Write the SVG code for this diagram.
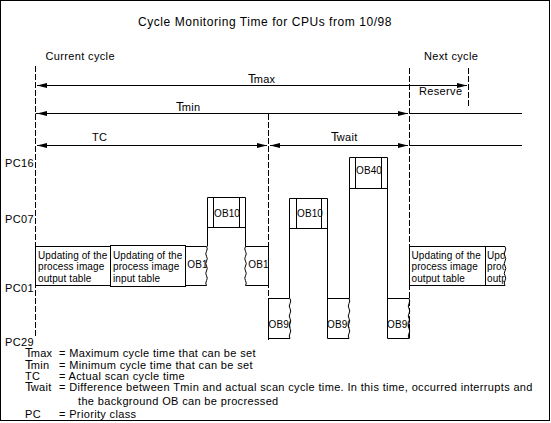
<svg xmlns="http://www.w3.org/2000/svg" width="551" height="423" viewBox="0 0 551 423">
<defs>
<style>
.t{font-family:"Liberation Sans",Arial,sans-serif;font-size:11px;letter-spacing:0.35px;fill:#000}
.s{font-family:"Liberation Sans",Arial,sans-serif;font-size:10px;letter-spacing:0.1px;fill:#000}
.ti{font-family:"Liberation Sans",Arial,sans-serif;font-size:12px;letter-spacing:0.55px;fill:#000}
.big{font-size:12.5px;letter-spacing:0}
.ln{stroke:#000;stroke-width:1;fill:none}
.dash{stroke:#000;stroke-width:1;stroke-dasharray:6 2;fill:none}
.wv{stroke:#000;stroke-width:1;fill:none}
</style>
<marker id="ah" viewBox="0 0 10 6" refX="10" refY="3" markerWidth="10" markerHeight="6" orient="auto-start-reverse" markerUnits="userSpaceOnUse">
<path d="M0,0.5 L10,3 L0,5.5 z" fill="#000"/>
</marker>
<clipPath id="c90a"><rect x="268" y="299" width="22.5" height="39"/></clipPath>
<clipPath id="c90b"><rect x="327" y="299" width="22.5" height="39"/></clipPath>
<clipPath id="c90c"><rect x="387" y="299" width="22.5" height="39"/></clipPath>
<clipPath id="cD"><rect x="486" y="247" width="18.5" height="38"/></clipPath>
<clipPath id="c1a"><rect x="186" y="247" width="20.5" height="38"/></clipPath>
</defs>
<rect x="0" y="0" width="551" height="423" fill="#fff"/>
<rect x="0.5" y="0.5" width="549" height="420" fill="#fff" stroke="#000" stroke-width="1"/>

<text class="ti" x="138" y="26">Cycle Monitoring Time for CPUs from 10/98</text>
<text class="t" x="45.5" y="59.5">Current cycle</text>
<text class="t" x="424" y="59.5">Next cycle</text>

<g id="axis-labels">
<text class="t" x="5" y="167">PC16</text>
<text class="t" x="5" y="223">PC07</text>
<text class="t" x="5" y="292">PC01</text>
<text class="t" x="5" y="345.5">PC29</text>
</g>

<g id="connectors">
<path class="dash" d="M35.5,66 V338"/>
<path class="dash" d="M268.5,114 V340"/>
<path class="dash" d="M409.5,68 V340"/>
<path class="dash" d="M468.5,68 V107"/>
<line class="ln" x1="37" y1="85.5" x2="467" y2="85.5" marker-start="url(#ah)" marker-end="url(#ah)"/>
<line class="ln" x1="37" y1="113.5" x2="408" y2="113.5" marker-start="url(#ah)" marker-end="url(#ah)"/>
<line class="ln" x1="35.5" y1="113.5" x2="38" y2="113.5"/>
<line class="ln" x1="409.5" y1="113.5" x2="522" y2="113.5"/>
<line class="ln" x1="37" y1="145.5" x2="267" y2="145.5" marker-start="url(#ah)" marker-end="url(#ah)"/>
<line class="ln" x1="270" y1="145.5" x2="408" y2="145.5" marker-start="url(#ah)" marker-end="url(#ah)"/>
<line class="ln" x1="409.5" y1="145.5" x2="522" y2="145.5"/>
<text class="t" x="248" y="82.5"><tspan class="big">T</tspan><tspan dx="-2">max</tspan></text>
<text class="t" x="176" y="111"><tspan class="big">T</tspan><tspan dx="-2">min</tspan></text>
<text class="t" x="92" y="141">TC</text>
<text class="t" x="331" y="141"><tspan class="big">T</tspan><tspan dx="-2">wait</tspan></text>
<text class="t" x="419" y="95">Reserve</text>
</g>

<g id="upd-output-1">
<rect class="ln" x="35.5" y="246.5" width="75" height="39"/>
<text class="s" x="38" y="258.5">Updating of the</text>
<text class="s" x="38" y="270">process image</text>
<text class="s" x="38" y="281.5">output table</text>
</g>

<g id="upd-input-1">
<rect class="ln" x="110.5" y="245.5" width="75" height="41"/>
<text class="s" x="113" y="258.5">Updating of the</text>
<text class="s" x="113" y="270">process image</text>
<text class="s" x="113" y="281.5">input table</text>
</g>

<g id="ob1-a">
<path class="ln" d="M185.5,246.5 H206.5 M185.5,285.5 H206.5"/>
<path class="wv" d="M206.5,246.5 q1.5,2.44 0,4.875 q-1.5,2.44 0,4.875 q1.5,2.44 0,4.875 q-1.5,2.44 0,4.875 q1.5,2.44 0,4.875 q-1.5,2.44 0,4.875 q1.5,2.44 0,4.875 q-1.5,2.44 0,4.875"/>
<text class="s" x="187.3" y="267.5" clip-path="url(#c1a)">OB1</text>
</g>

<g id="ob10-a">
<path class="ln" d="M207.5,246.5 V197.5 H245.5 V246.5 M207.5,227.5 H245.5 M213.5,197.5 V227.5 M239.5,197.5 V227.5"/>
<text class="s" x="214" y="217">OB10</text>
</g>

<g id="ob1-b">
<path class="ln" d="M245.5,246.5 H268.5 V285.5 H245.5"/>
<path class="wv" d="M245.5,246.5 q-1.5,2.44 0,4.875 q1.5,2.44 0,4.875 q-1.5,2.44 0,4.875 q1.5,2.44 0,4.875 q-1.5,2.44 0,4.875 q1.5,2.44 0,4.875 q-1.5,2.44 0,4.875 q1.5,2.44 0,4.875"/>
<text class="s" x="248.3" y="267.5">OB1</text>
</g>

<g id="ob90-a">
<path class="ln" d="M289.5,298.5 H268.5 V338.5 H290"/>
<path class="wv" d="M290,298.5 q1.5,2.5 0,5 q-1.5,2.5 0,5 q1.5,2.5 0,5 q-1.5,2.5 0,5 q1.5,2.5 0,5 q-1.5,2.5 0,5 q1.5,2.5 0,5 q-1.5,2.5 0,5"/>
<text class="s" x="268.5" y="328" clip-path="url(#c90a)">OB90</text>
</g>

<g id="ob10-b">
<path class="ln" d="M289.5,298.5 V198.5 H327.5 V338.5 M289.5,228.5 H327.5 M296.5,198.5 V228.5 M321.5,198.5 V228.5"/>
<text class="s" x="297" y="216.5">OB10</text>
</g>

<g id="ob90-b">
<path class="ln" d="M327.5,298.5 H349.5 M327.5,338.5 H349"/>
<path class="wv" d="M349,298.5 q1.5,2.5 0,5 q-1.5,2.5 0,5 q1.5,2.5 0,5 q-1.5,2.5 0,5 q1.5,2.5 0,5 q-1.5,2.5 0,5 q1.5,2.5 0,5 q-1.5,2.5 0,5"/>
<text class="s" x="327" y="328" clip-path="url(#c90b)">OB90</text>
</g>

<g id="ob40">
<path class="ln" d="M349.5,298.5 V157.5 H387.5 V338.5 M349.5,188.5 H387.5 M355.5,157.5 V188.5 M381.5,157.5 V188.5"/>
<text class="s" x="356" y="174">OB40</text>
</g>

<g id="ob90-c">
<path class="ln" d="M387.5,298.5 H409.5 M387.5,338.5 H409.5"/>
<path class="wv" d="M409,298.5 q1.5,2.5 0,5 q-1.5,2.5 0,5 q1.5,2.5 0,5 q-1.5,2.5 0,5 q1.5,2.5 0,5 q-1.5,2.5 0,5 q1.5,2.5 0,5 q-1.5,2.5 0,5"/>
<text class="s" x="387" y="328" clip-path="url(#c90c)">OB90</text>
</g>

<g id="upd-output-2">
<rect class="ln" x="409.5" y="246.5" width="76" height="39"/>
<text class="s" x="411.5" y="258.5">Updating of the</text>
<text class="s" x="411.5" y="270">process image</text>
<text class="s" x="411.5" y="281.5">output table</text>
</g>

<g id="upd-2">
<path class="ln" d="M485.5,246.5 H505 M485.5,285.5 H505"/>
<path class="wv" d="M505,246.5 q1.5,2.44 0,4.875 q-1.5,2.44 0,4.875 q1.5,2.44 0,4.875 q-1.5,2.44 0,4.875 q1.5,2.44 0,4.875 q-1.5,2.44 0,4.875 q1.5,2.44 0,4.875 q-1.5,2.44 0,4.875"/>
<g clip-path="url(#cD)">
<text class="s" x="487" y="258.5">Upd</text>
<text class="s" x="487" y="270">proc</text>
<text class="s" x="487" y="281.5">outp</text>
</g>
</g>

<g id="legend">
<text class="t" x="25" y="357"><tspan class="big">T</tspan><tspan dx="-2">max</tspan></text>
<text class="t" x="59" y="357">= Maximum cycle time that can be set</text>
<text class="t" x="25" y="368.5"><tspan class="big">T</tspan><tspan dx="-2">min</tspan></text>
<text class="t" x="59" y="368.5">= Minimum cycle time that can be set</text>
<text class="t" x="25" y="379.5">TC</text>
<text class="t" x="59" y="379.5">= Actual scan cycle time</text>
<text class="t" x="25" y="391"><tspan class="big">T</tspan><tspan dx="-2">wait</tspan></text>
<text class="t" x="59" y="391">= Difference between Tmin and actual scan cycle time. In this time, occurred interrupts and</text>
<text class="t" x="78" y="405">the background OB can be procressed</text>
<text class="t" x="25" y="417.5">PC</text>
<text class="t" x="59" y="417.5">= Priority class</text>
</g>
</svg>
